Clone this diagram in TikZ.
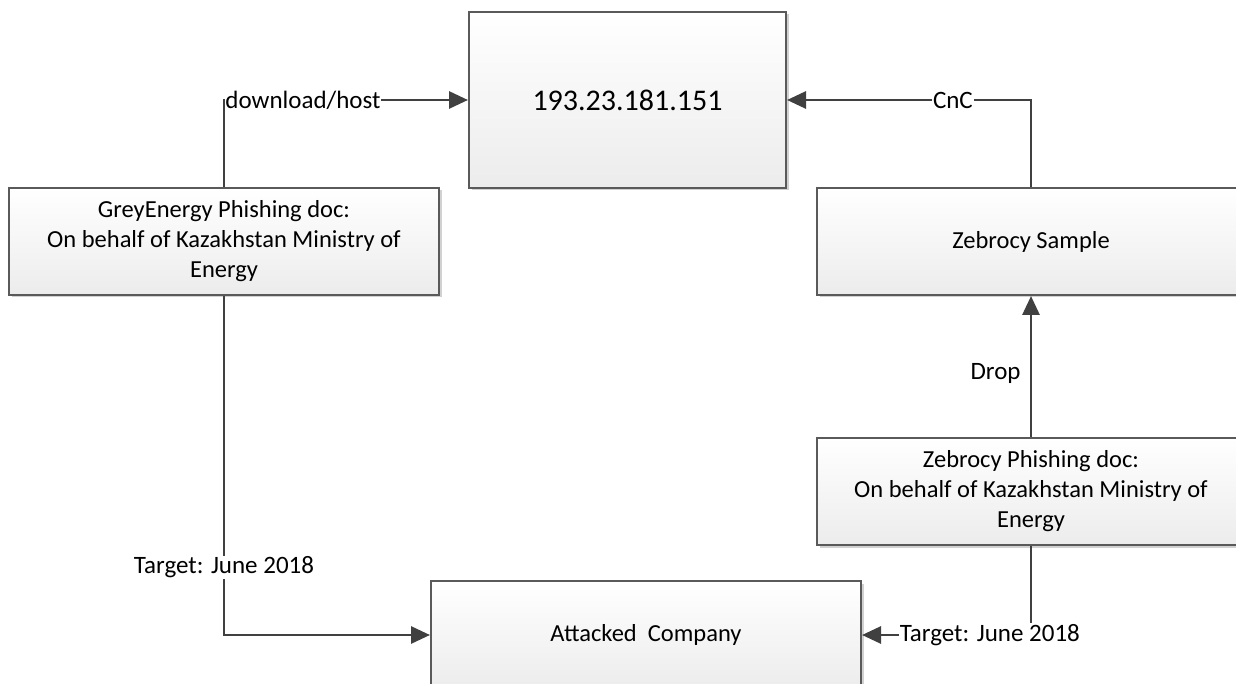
\documentclass[tikz,border=0pt]{standalone}
\usepackage{fontspec}
\setmainfont{Carlito}
\usetikzlibrary{arrows.meta,shadows}
\definecolor{boxline}{RGB}{90,90,90}
\definecolor{boxbot}{RGB}{236,236,236}
\definecolor{conncol}{RGB}{64,64,64}
\tikzset{
  box/.style={draw=boxline, line width=2pt, top color=white, bottom color=boxbot,
    minimum height=107pt, inner sep=0pt, align=center, text=black,
    font=\fontsize{24.5}{30}\selectfont,
    drop shadow={shadow xshift=2.5pt, shadow yshift=-2.5pt, fill=black!18, opacity=1}},
  conn/.style={draw=conncol, line width=2.9pt, -{Triangle[length=19pt,width=17pt]}},
  lbl/.style={fill=white, inner sep=1pt, text=black, font=\fontsize{25}{28}\selectfont}
}
\begin{document}
\begin{tikzpicture}[x=1pt,y=-1pt]
\clip (0,0) rectangle (1236,684);
\fill[white] (0,0) rectangle (1236,684);
\node[box, minimum width=317pt, minimum height=176pt, font=\fontsize{30}{36}\selectfont] (ip) at (627.5,100) {193.23.181.151};
\node[box, minimum width=430pt] (grey) at (224,241.5) {GreyEnergy Phishing doc:\\On behalf of Kazakhstan Ministry of\\Energy};
\node[box, minimum width=428pt] (zsample) at (1031,241.5) {Zebrocy Sample};
\node[box, minimum width=428pt] (zphish) at (1031,491.5) {Zebrocy Phishing doc:\\On behalf of Kazakhstan Ministry of\\Energy};
\node[box, minimum width=430pt, minimum height=108pt] (attacked) at (646,635) {Attacked\ \ Company};
\draw[conn] (grey.north) |- node[lbl, pos=0.5, anchor=west, inner sep=0pt] (l1) {download/host} (ip.west);
\draw[conn] (zsample.north) |- node[lbl, pos=0.66] (l2) {CnC} (ip.east);
\draw[conn] (zphish.north) -- node[lbl, pos=0.45, anchor=east, fill=none, xshift=-8pt] (l3) {Drop} (zsample.south);
\draw[conn] (grey.south) |- node[lbl, pos=0.40] (l4) {Target: June 2018} (attacked.west);
\draw[conn] (zphish.south) |- node[lbl, pos=0.622] (l5) {Target: June 2018} (attacked.east);
\end{tikzpicture}
\end{document}
